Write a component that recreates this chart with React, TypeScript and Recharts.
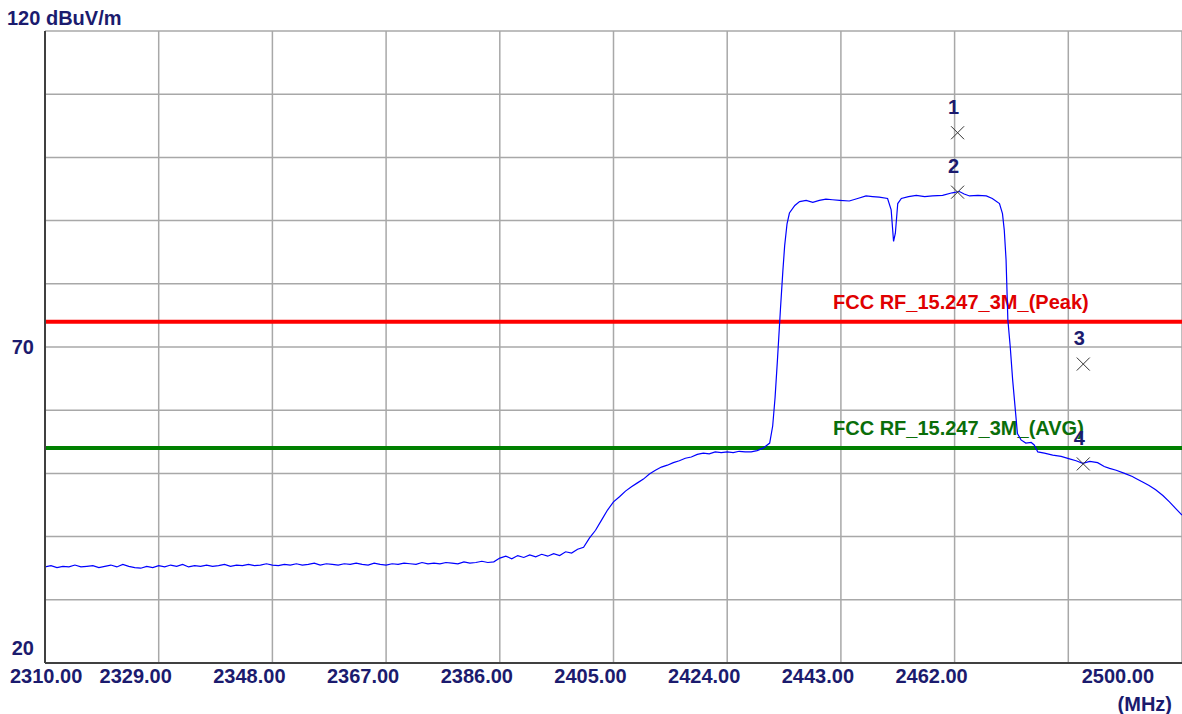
import React from "react";
import { ComposedChart, Line, Scatter, XAxis, YAxis, CartesianGrid, ReferenceLine } from "recharts";

const traceFreqs = [
  2310, 2311, 2312, 2313, 2314, 2315, 2316, 2317, 2318, 2319, 2320, 2321, 2322, 2323, 2324, 2325, 2326, 2327, 2328, 2329,
  2330, 2331, 2332, 2333, 2334, 2335, 2336, 2337, 2338, 2339, 2340, 2341, 2342, 2343, 2344, 2345, 2346, 2347, 2348, 2349,
  2350, 2351, 2352, 2353, 2354, 2355, 2356, 2357, 2358, 2359, 2360, 2361, 2362, 2363, 2364, 2365, 2366, 2367, 2368, 2369,
  2370, 2371, 2372, 2373, 2374, 2375, 2376, 2377, 2378, 2379, 2380, 2381, 2382, 2383, 2384, 2385, 2386, 2387, 2388, 2389,
  2390, 2391, 2392, 2393, 2394, 2395, 2396, 2397, 2398, 2399, 2400, 2401, 2402, 2403, 2404, 2405, 2406, 2407, 2408, 2409,
  2410, 2411, 2412, 2413, 2414, 2415, 2416, 2417, 2418, 2419, 2420, 2421, 2422, 2423, 2424, 2425, 2426, 2427, 2428, 2429,
  2430, 2431.1, 2431.6, 2432.0, 2432.4, 2432.9, 2433.3, 2433.6, 2434.0, 2434.4, 2435.3, 2436.1, 2437.2, 2438.3, 2439.4,
  2440.5, 2441.6, 2442.8, 2444.4, 2445.8, 2447.2, 2448.3, 2449.4, 2450.8, 2451.4, 2451.8, 2452.1, 2452.5, 2453.1, 2454.3,
  2455.6, 2457.0, 2458.3, 2460.0, 2461.6, 2462.8, 2463.6, 2464.5, 2465.9, 2467.3, 2468.3, 2469.5, 2470.0, 2470.3, 2470.6,
  2470.7, 2470.9, 2471.3, 2471.7, 2472.2, 2472.5, 2473.1, 2473.9, 2474.8, 2475.3, 2475.9, 2477.0, 2478.4, 2479.8, 2481.2,
  2482.3, 2483.4, 2484.6, 2485.9, 2487.0, 2487.9, 2489.0, 2490.4, 2491.7, 2492.3, 2493.5, 2494.5, 2495.6, 2496.8, 2497.9,
  2499.0, 2500.0,
];

const traceLevels = [
  35.2, 35.4, 35.1, 35.3, 35.2, 35.5, 35.2, 35.3, 35.4, 35.1, 35.3, 35.5, 35.2, 35.6, 35.3, 35.1, 35.0, 35.3, 35.1, 35.4,
  35.2, 35.5, 35.3, 35.6, 35.2, 35.4, 35.3, 35.5, 35.3, 35.4, 35.6, 35.3, 35.5, 35.4, 35.6, 35.4, 35.5, 35.7, 35.5, 35.4,
  35.6, 35.5, 35.7, 35.5, 35.6, 35.8, 35.5, 35.7, 35.6, 35.5, 35.7, 35.6, 35.8, 35.6, 35.5, 35.8, 35.6, 35.5, 35.7, 35.6,
  35.8, 35.7, 35.6, 35.9, 35.7, 35.8, 35.7, 35.9, 35.8, 35.7, 36.0, 35.8, 35.9, 36.1, 35.9, 36.0, 36.6, 36.9, 36.5, 37.0,
  36.7, 37.1, 36.8, 37.2, 36.9, 37.3, 37.0, 37.6, 37.4, 38.0, 38.3, 39.8, 41.0, 42.6, 44.2, 45.5, 46.3, 47.2, 47.9, 48.5,
  49.1, 49.9, 50.5, 51.0, 51.3, 51.7, 52.0, 52.4, 52.6, 53.0, 53.2, 53.1, 53.4, 53.3, 53.4, 53.3, 53.5, 53.4, 53.4, 53.6,
  54.0, 54.8, 57.5, 62.0, 68.0, 76.0, 82.0, 86.0, 89.5, 91.2, 92.4, 93.0, 93.2, 92.9, 93.2,
  93.4, 93.3, 93.2, 93.1, 93.5, 93.9, 93.8, 93.7, 93.5, 91.7, 86.7, 88.0, 92.7, 93.5, 93.8,
  94.0, 93.8, 93.9, 94.0, 94.4, 94.6, 94.2, 93.9, 94.0, 93.9, 93.5, 92.7, 91.1, 88.5, 83.8,
  80.6, 74.3, 70.0, 64.8, 59.5, 56.3, 55.3, 54.8, 54.9, 54.5, 53.4, 53.2, 52.9, 52.7, 52.3,
  52.0, 51.6, 51.9, 51.7, 51.1, 50.8, 50.5, 50.0, 49.5, 49.2, 48.6, 48.1, 47.4, 46.5, 45.5,
  44.4, 43.4,
];

const markerNames = ["1", "2", "3", "4"];
const markerFreqs = [2462.5, 2462.5, 2483.5, 2483.5];
const markerLevels = [103.9, 94.5, 67.3, 51.5];

const xTicks = [2310, 2329, 2348, 2367, 2386, 2405, 2424, 2443, 2462, 2481, 2500];
const yTicks = [20, 30, 40, 50, 60, 70, 80, 90, 100, 110, 120];

const peakLimit = 74;
const avgLimit = 54;
const peakLabel = "FCC RF_15.247_3M_(Peak)";
const avgLabel = "FCC RF_15.247_3M_(AVG)";

const traceData = traceFreqs.map((f, i) => ({ f, v: traceLevels[i] }));
const markerData = markerFreqs.map((f, i) => ({ f, v: markerLevels[i], name: markerNames[i] }));

const FONT = "'Liberation Sans', Arial, sans-serif";
const NAVY = "#1b1b6e";

function XTick(props: any) {
  const { x, payload } = props;
  const v = payload.value;
  if (v === 2481) return null;
  let anchor = "middle";
  let dx = -23;
  if (v === 2310) { anchor = "start"; dx = -35; }
  if (v === 2500) { anchor = "end"; dx = -12; }
  return (
    <text x={x + dx} y={683} textAnchor={anchor} fontFamily={FONT} fontWeight="bold" fontSize={20} fill={NAVY}>
      {v.toFixed(2)}
    </text>
  );
}

function YTick(props: any) {
  const { y, payload } = props;
  const v = payload.value;
  if (v === 120) {
    return (
      <text x={7} y={25} textAnchor="start" fontFamily={FONT} fontWeight="bold" fontSize={20} fill={NAVY}>
        120 dBuV/m
      </text>
    );
  }
  if (v === 70) {
    return (
      <text x={34} y={y + 7} textAnchor="end" fontFamily={FONT} fontWeight="bold" fontSize={20} fill={NAVY}>
        70
      </text>
    );
  }
  if (v === 20) {
    return (
      <text x={34} y={y - 8} textAnchor="end" fontFamily={FONT} fontWeight="bold" fontSize={20} fill={NAVY}>
        20
      </text>
    );
  }
  return null;
}

function LimitLabel(props: any) {
  const { viewBox, text, color } = props;
  return (
    <text x={833} y={viewBox.y - 13} fontFamily={FONT} fontWeight="bold" fontSize={20} fill={color}>
      {text}
    </text>
  );
}

function MarkerShape(props: any) {
  const { cx, cy, payload } = props;
  const s = 6.5;
  return (
    <g>
      <line x1={cx - s} y1={cy - s} x2={cx + s} y2={cy + s} stroke="#333" strokeWidth={1} />
      <line x1={cx - s} y1={cy + s} x2={cx + s} y2={cy - s} stroke="#333" strokeWidth={1} />
      <text x={cx - 4} y={cy - 19} textAnchor="middle" fontFamily={FONT} fontWeight="bold" fontSize={20} fill={NAVY}>
        {payload.name}
      </text>
    </g>
  );
}

export default function App() {
  return (
    <div style={{ position: "absolute", left: 0, top: 0, width: 1182, height: 714, background: "#fff" }}>
      <ComposedChart width={1182} height={714} margin={{ top: 31, right: 0, left: 0, bottom: 0 }}>
        <CartesianGrid stroke="#a8a8a8" strokeWidth={1.5} />
        <XAxis
          dataKey="f"
          type="number"
          domain={[2310, 2500]}
          ticks={xTicks}
          height={51}
          tickLine={false}
          axisLine={{ stroke: "#404040", strokeWidth: 2 }}
          tick={<XTick />}
          allowDataOverflow
        />
        <YAxis
          type="number"
          domain={[20, 120]}
          ticks={yTicks}
          width={45}
          tickLine={false}
          axisLine={{ stroke: "#404040", strokeWidth: 2 }}
          tick={<YTick />}
          allowDataOverflow
        />
        <ReferenceLine y={peakLimit} stroke="#ff0000" strokeWidth={4} label={<LimitLabel text={peakLabel} color="#e00000" />} />
        <ReferenceLine y={avgLimit} stroke="#008000" strokeWidth={4} label={<LimitLabel text={avgLabel} color="#0a6e0a" />} />
        <Line data={traceData} dataKey="v" type="linear" stroke="#0000ff" strokeWidth={1.2} dot={false} isAnimationActive={false} />
        <Scatter data={markerData} dataKey="v" shape={<MarkerShape />} isAnimationActive={false} />
        <text x={1172} y={711} textAnchor="end" fontFamily={FONT} fontWeight="bold" fontSize={20} fill={NAVY}>
          (MHz)
        </text>
      </ComposedChart>
    </div>
  );
}
